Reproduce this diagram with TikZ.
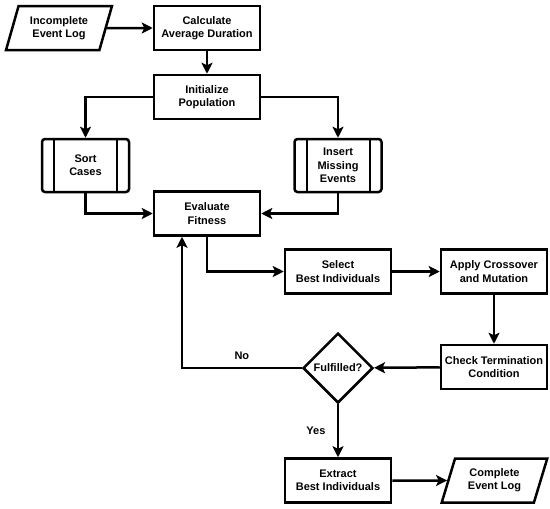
\documentclass[tikz,border=0pt]{standalone}
\usepackage{fontspec}
\setmainfont{Liberation Sans}
\usetikzlibrary{shapes.geometric,arrows.meta}

\tikzset{
    base/.style={draw, line width=2.5pt, align=center, inner sep=1pt,
        font=\fontsize{11}{13.3}\selectfont\bfseries},
    box/.style={base, minimum width=106pt, minimum height=44pt},
    iobox/.style={base, trapezium, trapezium left angle=70, trapezium right angle=110,
        trapezium stretches=true, minimum width=106pt, minimum height=44pt},
    subproc/.style={base, rounded corners=3pt, minimum width=87pt, minimum height=53pt,
        path picture={
            \draw[line width=2pt] ([xshift=12pt]path picture bounding box.north west)
                -- ([xshift=12pt]path picture bounding box.south west);
            \draw[line width=2pt] ([xshift=-12pt]path picture bounding box.north east)
                -- ([xshift=-12pt]path picture bounding box.south east);
        }},
    decision/.style={base, diamond, minimum width=70pt, minimum height=70pt, inner sep=0pt},
    arr/.style={line width=2.5pt, -{Stealth[length=11pt, width=11pt, inset=2.5pt]}},
    lbl/.style={font=\fontsize{11}{13.3}\selectfont\bfseries}
}

\begin{document}
\begin{tikzpicture}[x=1pt, y=-1pt]
    \useasboundingbox (0,0) rectangle (550,509);

    % nodes
    \node[iobox] (inc) at (59,28) {Incomplete\\Event Log};
    \node[box] (calc) at (207,28) {Calculate\\Average Duration};
    \node[box] (init) at (207,97) {Initialize\\Population};
    \node[subproc] (sort) at (85.5,165.5) {Sort\\Cases};
    \node[subproc] (ins) at (338,165.5) {Insert\\Missing\\Events};
    \node[box] (eval) at (207,213.5) {Evaluate\\Fitness};
    \node[box] (sel) at (338,271.5) {Select\\Best Individuals};
    \node[box] (apply) at (494,271.5) {Apply Crossover\\and Mutation};
    \node[box] (check) at (494,367) {Check Termination\\Condition};
    \node[decision] (ful) at (338,368) {Fulfilled?};
    \node[box] (ext) at (338,480.5) {Extract\\Best Individuals};
    \node[iobox] (comp) at (494.5,480.5) {Complete\\Event Log};
    \coordinate (back) at (182,235);

    % connectors
    \draw[arr] (inc) -- (calc);
    \draw[arr] (calc) -- (init);
    \draw[arr] (init.west) -| (sort.north);
    \draw[arr] (init.east) -| (ins.north);
    \draw[arr] (sort.south) |- (eval.west);
    \draw[arr] (ins.south) |- (eval.east);
    \draw[arr] (eval.south) |- (sel.west);
    \draw[arr] (sel) -- (apply);
    \draw[arr] (apply) -- (check);
    \draw[arr] (check) -- (ful);
    \draw[arr] (ful.west) -| node[lbl, pos=0.25, above=4pt] {No} (back |- eval.south);
    \draw[arr] (ful) -- node[lbl, left=8pt] {Yes} (ext);
    \draw[arr] (ext) -- (comp);
\end{tikzpicture}
\end{document}
